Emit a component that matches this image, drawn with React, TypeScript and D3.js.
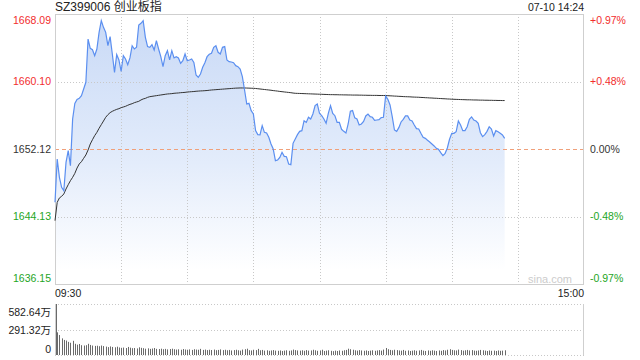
import React from "react";
import * as d3 from "d3";

const TITLE = "SZ399006 创业板指";
const STAMP = "07-10 14:24";
const PREV_CLOSE = 1652.12;
const LEFT_TICKS = [1668.09, 1660.1, 1652.12, 1644.13, 1636.15];
const RIGHT_TICKS = ["+0.97%", "+0.48%", "0.00%", "-0.48%", "-0.97%"];
const TIME_LABELS = ["09:30", "15:00"];
const VOL_TICKS = ["582.64万", "291.32万", "0"];
const VOL_MAX = 582.64;

const PRICE = [
  1645.81, 1650.94, 1648.77, 1647.59, 1647.19, 1650.54, 1651.92, 1650.15, 1655.67, 1657.52,
  1657.99, 1658.11, 1658.43, 1659.22, 1660.01, 1665.13, 1664.03, 1663.87, 1663.16, 1663.95,
  1665.92, 1667.3, 1666.51, 1665.92, 1664.34, 1665.41, 1663.36, 1661.19, 1663.28, 1662.65,
  1661.31, 1663.16, 1662.77, 1662.1, 1662.89, 1664.34, 1663.95, 1664.15, 1666.79, 1666.99,
  1667.3, 1665.33, 1664.23, 1664.15, 1664.46, 1663.83, 1664.94, 1663.95, 1663.04, 1661.86,
  1663.16, 1663.75, 1662.65, 1663.75, 1662.89, 1663.04, 1662.89, 1662.25, 1662.57, 1663.36,
  1662.57, 1662.65, 1662.77, 1662.37, 1660.87, 1660.6, 1660.99, 1661.78, 1662.33, 1663.04,
  1663.32, 1663.44, 1664.15, 1664.34, 1663.56, 1663.36, 1664.15, 1664.23, 1662.65, 1662.45,
  1662.41, 1662.33, 1661.98, 1661.86, 1661.58, 1660.68, 1659.1, 1657.44, 1657.52, 1656.66,
  1656.26, 1654.29, 1653.82, 1653.8, 1654.88, 1654.09, 1654.01, 1653.5, 1652.71, 1652.12,
  1650.74, 1650.82, 1651.13, 1651.73, 1651.25, 1651.21, 1650.35, 1650.27, 1652.79, 1653.3,
  1653.82, 1654.21, 1654.29, 1655.47, 1655.27, 1655.87, 1655.67, 1656.26, 1657.25, 1657.44,
  1656.34, 1656.06, 1655.67, 1655.16, 1656.34, 1657.25, 1656.34, 1656.06, 1655.27, 1655.27,
  1654.45, 1654.21, 1654.01, 1655.08, 1656.58, 1656.66, 1655.8, 1655.67, 1654.96, 1655.08,
  1655.39, 1656.03, 1656.26, 1655.95, 1655.87, 1655.51, 1655.55, 1655.59, 1655.83, 1655.87,
  1658.39, 1658.0, 1657.33, 1655.95, 1654.37, 1654.21, 1654.65, 1655.32, 1655.63, 1656.03,
  1656.03, 1655.55, 1655.43, 1654.96, 1654.53, 1654.49, 1653.98, 1653.5, 1653.38, 1653.15,
  1652.95, 1652.71, 1652.48, 1652.2, 1652.08, 1651.69, 1651.33, 1651.61, 1652.24, 1653.27,
  1653.98, 1653.98, 1654.17, 1655.43, 1654.96, 1654.29, 1654.29, 1654.76, 1655.63, 1655.91,
  1655.55, 1655.43, 1655.16, 1654.05, 1653.58, 1653.82, 1654.21, 1654.76, 1654.49, 1653.66,
  1654.29, 1654.17, 1653.98, 1653.78, 1653.38,
];

const AVG = [
  1643.64, 1645.81, 1646.33, 1646.52, 1646.8, 1647.39, 1647.9, 1648.37, 1648.77, 1649.24,
  1649.87, 1650.35, 1650.62, 1651.02, 1651.41, 1652.0, 1652.71, 1653.22, 1653.7, 1654.09,
  1654.57, 1655.0, 1655.43, 1655.87, 1656.18, 1656.42, 1656.58, 1656.7, 1656.81, 1656.89,
  1657.01, 1657.09, 1657.17, 1657.29, 1657.4, 1657.48, 1657.6, 1657.68, 1657.76, 1657.92,
  1658.04, 1658.11, 1658.23, 1658.31, 1658.35, 1658.39, 1658.43, 1658.47, 1658.51, 1658.55,
  1658.59, 1658.63, 1658.65, 1658.67, 1658.71, 1658.73, 1658.75, 1658.78, 1658.8, 1658.82,
  1658.86, 1658.88, 1658.9, 1658.92, 1658.95, 1658.97, 1658.99, 1659.0, 1659.02, 1659.04,
  1659.07, 1659.1, 1659.12, 1659.14, 1659.16, 1659.18, 1659.2, 1659.22, 1659.24, 1659.26,
  1659.28, 1659.3, 1659.32, 1659.33, 1659.34, 1659.34, 1659.34, 1659.33, 1659.32, 1659.31,
  1659.3, 1659.28, 1659.25, 1659.22, 1659.19, 1659.16, 1659.13, 1659.1, 1659.07, 1659.03,
  1659.0, 1658.97, 1658.93, 1658.9, 1658.87, 1658.84, 1658.81, 1658.78, 1658.74, 1658.71,
  1658.7, 1658.69, 1658.68, 1658.67, 1658.66, 1658.65, 1658.64, 1658.63, 1658.62, 1658.61,
  1658.6, 1658.59, 1658.58, 1658.57, 1658.56, 1658.55, 1658.55, 1658.54, 1658.54, 1658.53,
  1658.53, 1658.52, 1658.52, 1658.51, 1658.51, 1658.5, 1658.5, 1658.5, 1658.49, 1658.49,
  1658.48, 1658.48, 1658.47, 1658.47, 1658.46, 1658.46, 1658.46, 1658.45, 1658.45, 1658.45,
  1658.44, 1658.43, 1658.41, 1658.4, 1658.38, 1658.37, 1658.35, 1658.34, 1658.32, 1658.31,
  1658.3, 1658.29, 1658.27, 1658.26, 1658.25, 1658.24, 1658.22, 1658.21, 1658.19, 1658.18,
  1658.16, 1658.15, 1658.13, 1658.12, 1658.1, 1658.09, 1658.07, 1658.06, 1658.04, 1658.03,
  1658.01, 1658.0, 1657.99, 1657.98, 1657.97, 1657.96, 1657.95, 1657.94, 1657.94, 1657.93,
  1657.92, 1657.92, 1657.91, 1657.9, 1657.9, 1657.89, 1657.89, 1657.88, 1657.88, 1657.87,
  1657.87, 1657.86, 1657.86, 1657.85, 1657.85,
];

const VOLUME = [
  582.64, 259, 228, 190, 172, 165, 150, 140, 162, 128,
  118, 126, 112, 108, 112, 128, 115, 108, 104, 106,
  100, 108, 102, 96, 90, 98, 92, 88, 95, 86,
  82, 85, 80, 92, 84, 78, 80, 75, 88, 82,
  78, 72, 76, 70, 74, 80, 70, 68, 72, 66,
  70, 64, 68, 72, 66, 62, 65, 60, 68, 63,
  60, 64, 58, 66, 62, 60, 70, 58, 62, 56,
  60, 57, 62, 55, 58, 64, 56, 60, 54, 58,
  52, 56, 60, 54, 50, 62, 66, 72, 55, 52,
  60, 56, 70, 54, 58, 50, 54, 48, 52, 56,
  50, 48, 52, 46, 50, 54, 48, 52, 62, 56,
  52, 50, 54, 48, 56, 50, 52, 60, 54, 48,
  52, 60, 46, 50, 54, 48, 44, 50, 46, 52,
  48, 54, 58, 72, 66, 60, 54, 50, 56, 52,
  48, 52, 46, 50, 54, 48, 52, 56, 50, 62,
  80, 66, 58, 54, 60, 56, 52, 50, 58, 48,
  52, 46, 50, 54, 48, 52, 58, 50, 46, 52,
  48, 54, 50, 46, 52, 48, 56, 52, 60, 66,
  58, 54, 52, 62, 56, 50, 54, 58, 52, 56,
  50, 48, 52, 58, 54, 50, 46, 52, 48, 50,
  46, 52, 48, 50, 54,
];

const FONT = "'Liberation Sans', Arial, 'Noto Sans CJK SC', sans-serif";

export default function App() {
  const L = 55, R = 584, T = 14, B = 284;
  const VT = 304, VB = 355;
  const x = d3.scaleLinear().domain([0, 240]).range([L, R]);
  const y = d3.scaleLinear().domain([1636.15, 1668.09]).range([B, T]);
  const vy = d3.scaleLinear().domain([0, VOL_MAX]).range([VB, VT]);

  const line = d3.line<number>().x((_, i) => x(i)).y((d) => y(d));
  const area = d3.area<number>().x((_, i) => x(i)).y0(B).y1((d) => y(d));

  const vGrid = d3.range(1, 8).map((i) => Math.round(x(i * 30)) + 0.5);
  const hGrid = LEFT_TICKS.slice(1, 4).map((v) => Math.round(y(v)) + 0.5);
  const leftColor = (i: number) => (i < 2 ? "#f22d2d" : i === 2 ? "#333" : "#1ea51e");
  const labelY = (v: number) => Math.min(Math.max(y(v), T + 6), B - 6);
  const volLabelY = [VT + 8, (VT + VB) / 2 + 1, VB - 6];

  return (
    <svg width={640} height={360} style={{ position: "absolute", left: 0, top: 0, background: "#fff" }} fontFamily={FONT}>
      <defs>
        <linearGradient id="fillGrad" x1="0" y1={T} x2="0" y2={B} gradientUnits="userSpaceOnUse">
          <stop offset="0" stopColor="#c8d9f6" />
          <stop offset="0.55" stopColor="#e3ecfb" />
          <stop offset="0.95" stopColor="#ffffff" />
        </linearGradient>
      </defs>

      <text x={L} y={11} fontSize={12} fill="#222">{TITLE}</text>
      <text x={R} y={11} fontSize={10.5} fill="#222" textAnchor="end">{STAMP}</text>

      <path d={area(PRICE) || ""} fill="url(#fillGrad)" />

      {vGrid.map((gx, i) => (
        <line key={"vg" + i} x1={gx} x2={gx} y1={T} y2={B} stroke="#c8c8c8" strokeDasharray="1,2" />
      ))}
      {hGrid.map((gy, i) =>
        i === 1 ? null : (
          <line key={"hg" + i} x1={L} x2={R} y1={gy} y2={gy} stroke="#c8c8c8" strokeDasharray="1,2" />
        )
      )}
      <line x1={L} x2={R} y1={Math.round(y(PREV_CLOSE)) + 0.5} y2={Math.round(y(PREV_CLOSE)) + 0.5} stroke="#f0a07a" strokeDasharray="4,3" />

      <rect x={L + 0.5} y={T + 0.5} width={R - L - 1} height={B - T} fill="none" stroke="#cfcfcf" />

      <path d={line(AVG) || ""} fill="none" stroke="#333" strokeWidth={1} />
      <path d={line(PRICE) || ""} fill="none" stroke="#5b8ff0" strokeWidth={1.2} />

      <text x={572} y={283} fontSize={11} fill="#cccccc" textAnchor="end">sina.com</text>

      {LEFT_TICKS.map((v, i) => (
        <text key={"lt" + i} x={51} y={labelY(v)} dy="0.35em" fontSize={10.5} fill={leftColor(i)} textAnchor="end">
          {v.toFixed(2)}
        </text>
      ))}
      {RIGHT_TICKS.map((t, i) => (
        <text key={"rt" + i} x={590} y={labelY(LEFT_TICKS[i])} dy="0.35em" fontSize={10.5} fill={leftColor(i)}>
          {t}
        </text>
      ))}

      <text x={L} y={297} fontSize={10.5} fill="#222">{TIME_LABELS[0]}</text>
      <text x={R} y={297} fontSize={10.5} fill="#222" textAnchor="end">{TIME_LABELS[1]}</text>

      {[VT, (VT + VB) / 2, VB].map((gy, i) => (
        <line key={"vol" + i} x1={L} x2={R} y1={Math.round(gy) + 0.5} y2={Math.round(gy) + 0.5} stroke="#c8c8c8" strokeDasharray="1,2" />
      ))}
      <line x1={R - 0.5} x2={R - 0.5} y1={VT} y2={VB} stroke="#cfcfcf" />
      <line x1={L + 0.5} x2={L + 0.5} y1={VT} y2={VB} stroke="#cfcfcf" />
      {VOLUME.map((v, i) => (
        <rect key={"vb" + i} x={Math.round(x(i)) + (i === 0 ? 1 : 0)} y={vy(v)} width={1} height={VB - vy(v)} fill="#6a6a6a" />
      ))}
      {VOL_TICKS.map((t, i) => (
        <text key={"vl" + i} x={51} y={volLabelY[i]} dy="0.35em" fontSize={10.5} fill="#222" textAnchor="end">{t}</text>
      ))}
    </svg>
  );
}
